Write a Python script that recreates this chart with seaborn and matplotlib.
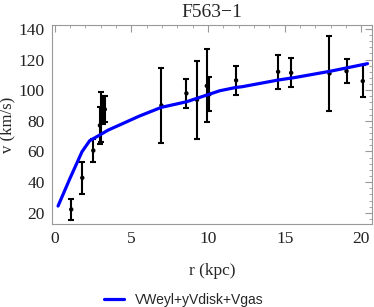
import numpy as np
import pandas as pd
import seaborn as sns
import matplotlib.pyplot as plt
from matplotlib.ticker import MultipleLocator

# =========================
# DATA
# =========================
r_obs = [1.08, 1.8, 2.52, 2.95, 3.05, 3.15, 3.27, 6.96, 8.59, 9.28, 9.92, 10.09,
         11.83, 14.57, 15.42, 17.92, 19.03, 20.09]
v_obs = [22.2, 42.8, 60.6, 77.0, 82.5, 87.0, 87.5, 90.0, 97.9, 93.7, 102.8, 97.3,
         106.4, 112.0, 111.3, 110.9, 112.4, 105.9]
v_err = [7.0, 10.5, 7.5, 12.0, 16.5, 9.0, 8.5, 24.7, 9.4, 25.5, 23.8, 11.0,
         9.5, 11.0, 9.5, 24.4, 8.0, 10.4]

r_fit = [0.22, 1.0, 1.78, 2.28, 2.93, 3.5, 4.46, 5.5, 6.96, 8.59, 10.1, 10.76,
         11.83, 12.2, 14.57, 15.7, 18.0, 20.4]
v_fit = [24.4, 42.5, 59.8, 67.0, 70.7, 74.0, 78.3, 83.0, 88.8, 92.4, 97.4, 99.6,
         101.8, 102.2, 106.6, 108.3, 112.4, 117.3]

fit_label = "VWeyl+yVdisk+Vgas"

obs = pd.DataFrame({"r": r_obs, "v": v_obs, "err": v_err})
fit = pd.DataFrame({"r": r_fit, "v": v_fit})

# =========================
# PLOT
# =========================
sns.set_style("white")
plt.rcParams["font.family"] = ["Liberation Serif", "DejaVu Serif"]

fig = plt.figure(figsize=(3.74, 3.07), dpi=100)
ax = fig.add_axes([0.138, 0.269, 0.857, 0.650])

ax.errorbar(obs["r"], obs["v"], yerr=obs["err"], fmt="none", ecolor="black",
            elinewidth=1.5, capsize=2.5, capthick=1.5, zorder=2)
sns.scatterplot(data=obs, x="r", y="v", color="black", s=10, edgecolor="none",
                ax=ax, zorder=3, legend=False)
sns.lineplot(data=fit, x="r", y="v", color="#0000FF", linewidth=2.3, ax=ax,
             label=fit_label, zorder=4)

ax.set_xlim(-0.2, 20.7)
ax.set_ylim(12.4, 142.6)

ax.xaxis.set_major_locator(MultipleLocator(5))
ax.xaxis.set_minor_locator(MultipleLocator(1))
ax.yaxis.set_major_locator(MultipleLocator(20))
ax.yaxis.set_minor_locator(MultipleLocator(4))
ax.tick_params(which="both", direction="in", top=True, right=True,
               color="#999999", labelsize=12.5, labelcolor="#222222")
ax.tick_params(which="major", length=5, width=0.8, pad=5)
ax.tick_params(which="minor", length=2.5, width=0.6)
for s in ax.spines.values():
    s.set_color("#999999")
    s.set_linewidth(0.8)

ax.set_title("F563\u22121", fontsize=14, pad=6)
ax.set_xlabel("r (kpc)", fontsize=12.5, labelpad=11)
ax.set_ylabel("v (km/s)", fontsize=12)
ax.yaxis.set_label_coords(-0.112, 0.5)

leg = ax.legend(loc="center", bbox_to_anchor=(0.413, -0.378), frameon=False,
                prop={"family": "Liberation Sans", "size": 10},
                handlelength=1.4, handletextpad=0.8)

fig.savefig("out.png", dpi=100)
plt.close()
